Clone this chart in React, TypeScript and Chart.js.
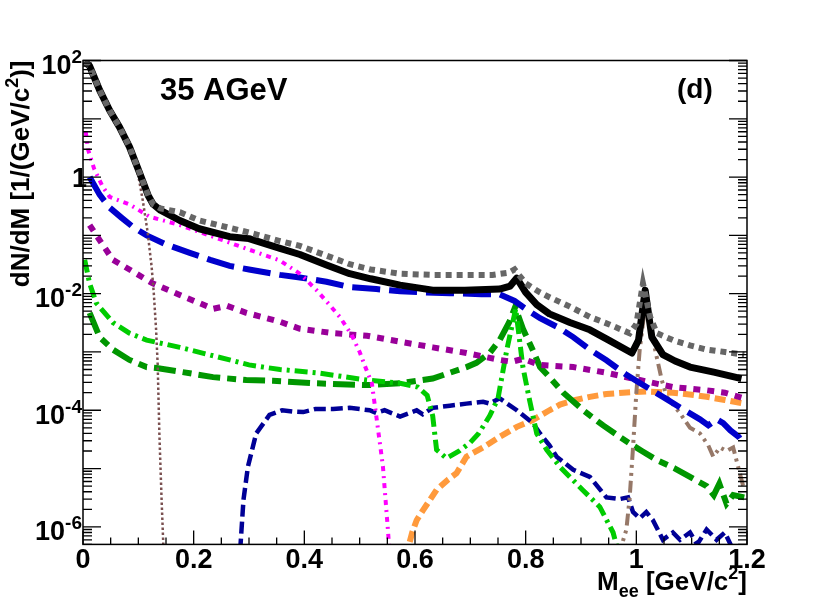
import { useEffect, useRef } from "react";
import { Chart, registerables } from "chart.js";

Chart.register(...registerables);

// dN/dM vs M_ee [GeV/c^2]
const sumM = [0.003, 0.012, 0.03, 0.048, 0.066, 0.084, 0.102, 0.118, 0.127, 0.14, 0.175, 0.21, 0.265, 0.3, 0.356, 0.392, 0.44, 0.482, 0.52, 0.573, 0.63, 0.69, 0.74, 0.77, 0.78, 0.8, 0.826, 0.843, 0.88, 0.916, 0.95, 0.988, 1.0, 1.012, 1.025, 1.037, 1.066, 1.097, 1.127, 1.16, 1.195];
const sumY = [95, 80, 31, 14, 7.2, 3.3, 1.2, 0.48, 0.34, 0.29, 0.25, 0.18, 0.135, 0.112, 0.08, 0.066, 0.045, 0.032, 0.026, 0.022, 0.021, 0.021, 0.021, 0.023, 0.026, 0.015, 0.0105, 0.0087, 0.006, 0.004, 0.003, 0.0021, 0.003, 0.015, 0.004, 0.0021, 0.0016, 0.0013, 0.0011, 0.001, 0.0009];

const totalM = [0.003, 0.012, 0.03, 0.048, 0.066, 0.084, 0.102, 0.118, 0.127, 0.14, 0.175, 0.21, 0.265, 0.3, 0.356, 0.392, 0.44, 0.482, 0.52, 0.573, 0.632, 0.69, 0.753, 0.772, 0.784, 0.8, 0.82, 0.843, 0.88, 0.916, 0.95, 0.992, 1.004, 1.016, 1.028, 1.048, 1.07, 1.097, 1.14, 1.19];
const totalY = [95, 80, 31, 14, 7.2, 3.3, 1.2, 0.48, 0.34, 0.27, 0.18, 0.13, 0.095, 0.088, 0.06, 0.047, 0.031, 0.022, 0.018, 0.014, 0.0115, 0.0115, 0.012, 0.0135, 0.0185, 0.0105, 0.0065, 0.0045, 0.0032, 0.0024, 0.0016, 0.00096, 0.0016, 0.0115, 0.0018, 0.0009, 0.0007, 0.00055, 0.00045, 0.00035];

const pi0M = [0.003, 0.012, 0.03, 0.048, 0.066, 0.084, 0.097, 0.108, 0.117, 0.124, 0.128, 0.132, 0.135, 0.138, 0.142, 0.146];
const pi0Y = [95, 80, 31, 14, 7.2, 3.3, 1.5, 0.4, 0.11, 0.029, 0.01, 0.0025, 0.0006, 0.00004, 0.000003, 0.0000003];

const bremM = [0.012, 0.03, 0.048, 0.07, 0.09, 0.115, 0.15, 0.193, 0.23, 0.265, 0.3, 0.356, 0.392, 0.44, 0.482, 0.53, 0.573, 0.62, 0.663, 0.72, 0.753, 0.78, 0.8, 0.826, 0.86, 0.886, 0.916, 0.946, 0.98, 1.01, 1.048, 1.08, 1.115, 1.13, 1.145, 1.157, 1.17, 1.185, 1.195];
const bremY = [1.0, 0.5, 0.3, 0.2, 0.14, 0.1, 0.07, 0.05, 0.038, 0.03, 0.026, 0.021, 0.019, 0.016, 0.013, 0.012, 0.011, 0.0105, 0.0102, 0.0098, 0.0097, 0.0075, 0.0055, 0.0038, 0.0026, 0.0018, 0.0011, 0.00072, 0.00042, 0.00028, 0.00017, 0.00011, 0.00007, 0.000055, 0.00007, 0.00006, 0.000045, 0.000035, 0.000025];

const etaM = [0.005, 0.009, 0.02, 0.035, 0.048, 0.084, 0.12, 0.175, 0.21, 0.265, 0.3, 0.356, 0.392, 0.422, 0.445, 0.464, 0.485, 0.5, 0.512, 0.522, 0.53, 0.542, 0.551, 0.556];
const etaY = [6, 3, 1.4, 0.7, 0.46, 0.34, 0.21, 0.15, 0.115, 0.075, 0.057, 0.037, 0.022, 0.0115, 0.0065, 0.004, 0.002, 0.001, 0.0005, 0.00029, 0.00008, 0.000011, 0.0000009, 0.0000002];

const deltaM = [0.012, 0.03, 0.054, 0.084, 0.126, 0.175, 0.235, 0.26, 0.295, 0.356, 0.392, 0.452, 0.513, 0.573, 0.632, 0.693, 0.753, 0.775, 0.795, 0.826, 0.886, 0.946, 1.006, 1.066, 1.127, 1.16, 1.195];
const deltaY = [0.15, 0.083, 0.038, 0.026, 0.015, 0.0095, 0.0055, 0.0062, 0.0047, 0.0033, 0.0025, 0.0021, 0.0019, 0.0015, 0.0012, 0.00096, 0.00073, 0.00068, 0.00076, 0.0006, 0.00055, 0.00044, 0.00033, 0.00025, 0.00022, 0.0002, 0.00016];

const omegaM = [0.003, 0.012, 0.024, 0.054, 0.084, 0.115, 0.175, 0.265, 0.3, 0.356, 0.422, 0.513, 0.573, 0.605, 0.622, 0.632, 0.639, 0.657, 0.68, 0.7, 0.715, 0.735, 0.75, 0.766, 0.782, 0.795, 0.807, 0.82, 0.838, 0.862, 0.903, 0.934, 0.958, 0.97];
const omegaY = [0.038, 0.015, 0.0069, 0.0032, 0.0021, 0.0016, 0.0012, 0.00073, 0.0006, 0.0005, 0.00044, 0.00033, 0.00029, 0.00025, 0.00018, 0.00008, 0.000021, 0.000015, 0.00002, 0.000028, 0.00004, 0.00008, 0.00016, 0.0011, 0.0055, 0.00055, 0.00015, 0.00004, 0.000021, 0.0000107, 0.0000043, 0.0000022, 0.0000008, 0.0000003];

const rhoM = [0.012, 0.03, 0.054, 0.084, 0.115, 0.133, 0.175, 0.235, 0.295, 0.343, 0.422, 0.513, 0.573, 0.632, 0.693, 0.711, 0.735, 0.753, 0.77, 0.781, 0.795, 0.813, 0.826, 0.843, 0.868, 0.904, 0.94, 0.97, 0.988, 1.01, 1.037, 1.07, 1.097, 1.127, 1.14, 1.15, 1.163, 1.175, 1.195];
const rhoY = [0.0047, 0.0018, 0.0011, 0.00073, 0.00055, 0.00053, 0.00046, 0.00037, 0.00033, 0.00032, 0.00029, 0.00027, 0.00029, 0.00035, 0.00055, 0.00065, 0.00096, 0.0016, 0.0032, 0.0059, 0.0025, 0.00107, 0.00055, 0.00037, 0.0002, 0.0001, 0.000055, 0.000035, 0.000027, 0.00002, 0.000014, 0.00001, 0.0000072, 0.000005, 0.0000035, 0.0000055, 0.0000025, 0.0000035, 0.0000032];

const etaPrimeM = [0.282, 0.29, 0.298, 0.313, 0.337, 0.36, 0.38, 0.398, 0.42, 0.452, 0.482, 0.518, 0.53, 0.545, 0.573, 0.603, 0.614, 0.632, 0.663, 0.693, 0.723, 0.735, 0.753, 0.784, 0.813, 0.826, 0.843, 0.856, 0.886, 0.916, 0.946, 0.97, 0.985, 0.994, 1.006, 1.018, 1.03, 1.048, 1.066, 1.079, 1.097, 1.11, 1.127, 1.145, 1.16, 1.175];
const etaPrimeY = [0.0000002, 0.0000029, 0.0000107, 0.00004, 0.000083, 0.0001, 0.000095, 0.000093, 0.000105, 0.000105, 0.00011, 0.0001, 0.00009, 0.0001, 0.000078, 0.0001, 0.000085, 0.00011, 0.00012, 0.00013, 0.00014, 0.00013, 0.00016, 0.0001, 0.00006, 0.00004, 0.000025, 0.000016, 0.0000095, 0.0000072, 0.0000032, 0.000003, 0.0000032, 0.0000018, 0.0000014, 0.0000018, 0.0000013, 0.0000006, 0.0000008, 0.0000006, 0.0000008, 0.0000005, 0.0000009, 0.0000006, 0.0000008, 0.0000004];

const qgpM = [0.583, 0.595, 0.603, 0.614, 0.639, 0.66, 0.675, 0.693, 0.723, 0.753, 0.784, 0.813, 0.843, 0.862, 0.89, 0.916, 0.946, 0.976, 1.018, 1.066, 1.1, 1.127, 1.16, 1.195];
const qgpY = [0.0000003, 0.0000008, 0.0000013, 0.0000019, 0.0000043, 0.0000065, 0.0000083, 0.000016, 0.000023, 0.000035, 0.000052, 0.000068, 0.0001, 0.000125, 0.00015, 0.00017, 0.00019, 0.0002, 0.00021, 0.0002, 0.000185, 0.00017, 0.00015, 0.00013];

const phiM = [0.967, 0.982, 0.988, 0.994, 1.0, 1.006, 1.012, 1.018, 1.024, 1.033, 1.046, 1.055, 1.079, 1.097, 1.115, 1.13, 1.139, 1.151, 1.163, 1.175, 1.187, 1.195];
const phiY = [0.0000003, 0.0000009, 0.0000032, 0.000023, 0.0002, 0.00107, 0.0031, 0.0087, 0.004, 0.0012, 0.00033, 0.00017, 0.000089, 0.00005, 0.00004, 0.000025, 0.000016, 0.000023, 0.00002, 0.000023, 0.0000083, 0.0000043];

const xTickLabels = ["0", "0.2", "0.4", "0.6", "0.8", "1", "1.2"];
const yLabelDecades = [2, 0, -2, -4, -6];

const FONT = '"Liberation Sans", Arial, Helvetica, sans-serif';

type Part = { t: string; s: number; dy: number };

function partsWidth(ctx: CanvasRenderingContext2D, parts: Part[]) {
  let w = 0;
  for (const p of parts) {
    ctx.font = `bold ${p.s}px ${FONT}`;
    w += ctx.measureText(p.t).width;
  }
  return w;
}

function drawParts(ctx: CanvasRenderingContext2D, parts: Part[], x: number, y: number) {
  let cx = x;
  ctx.textAlign = "left";
  for (const p of parts) {
    ctx.font = `bold ${p.s}px ${FONT}`;
    ctx.fillText(p.t, cx, y + p.dy);
    cx += ctx.measureText(p.t).width;
  }
}

const rootFrame = {
  id: "rootFrame",
  afterDatasetsDraw(chart: Chart) {
    const { ctx, chartArea: a } = chart;
    const xs = chart.scales.x;
    const ys = chart.scales.y;
    ctx.save();
    ctx.strokeStyle = "#000";
    ctx.fillStyle = "#000";
    ctx.lineWidth = 1.5;
    ctx.strokeRect(a.left, a.top, a.right - a.left, a.bottom - a.top);

    // x ticks: majors every 0.2, minors every 0.05
    ctx.lineWidth = 1.3;
    ctx.beginPath();
    for (let i = 0; i <= 24; i++) {
      const px = xs.getPixelForValue(i * 0.05);
      const len = i % 4 === 0 ? 14 : 7;
      ctx.moveTo(px, a.bottom);
      ctx.lineTo(px, a.bottom - len);
    }
    // log y ticks on both sides
    for (let d = -7; d <= 2; d++) {
      for (let k = 1; k <= 9; k++) {
        const v = k * Math.pow(10, d);
        if (v < 5e-7 || v > 100.0001) continue;
        const py = ys.getPixelForValue(v);
        const len = k === 1 ? 18 : 9;
        ctx.moveTo(a.left, py);
        ctx.lineTo(a.left + len, py);
        ctx.moveTo(a.right, py);
        ctx.lineTo(a.right - len, py);
      }
    }
    ctx.stroke();

    // x labels
    ctx.font = `bold 27px ${FONT}`;
    ctx.textAlign = "center";
    ctx.textBaseline = "alphabetic";
    xTickLabels.forEach((t, i) => {
      ctx.fillText(t, xs.getPixelForValue(i * 0.2), 568);
    });

    // y labels
    yLabelDecades.forEach((d) => {
      const py = ys.getPixelForValue(Math.pow(10, d));
      if (d === 0) {
        ctx.font = `bold 27px ${FONT}`;
        ctx.textAlign = "right";
        ctx.fillText("1", 87, py + 10);
        return;
      }
      const sup = String(d);
      ctx.font = `bold 19px ${FONT}`;
      const sw = ctx.measureText(sup).width;
      ctx.textAlign = "right";
      ctx.fillText(sup, 82, py + 2.5);
      ctx.font = `bold 27px ${FONT}`;
      ctx.fillText("10", 82 - sw, py + 13.5);
    });

    // panel texts
    ctx.textAlign = "left";
    ctx.font = `bold 31px ${FONT}`;
    ctx.fillText("35 AGeV", 160, 100);
    ctx.font = `bold 28px ${FONT}`;
    ctx.fillText("(d)", 677, 98);

    // x title, right-aligned to the frame
    const xt: Part[] = [
      { t: "M", s: 26, dy: 0 },
      { t: "ee", s: 18, dy: 7 },
      { t: " [GeV/c", s: 26, dy: 0 },
      { t: "2", s: 18, dy: -11 },
      { t: "]", s: 26, dy: 0 },
    ];
    drawParts(ctx, xt, a.right - partsWidth(ctx, xt), 590);

    // y title, rotated, ending at the top of the frame
    const yt: Part[] = [
      { t: "dN/dM [1/(GeV/c", s: 26, dy: 0 },
      { t: "2", s: 18, dy: -11 },
      { t: ")]", s: 26, dy: 0 },
    ];
    ctx.translate(29, a.top);
    ctx.rotate(-Math.PI / 2);
    drawParts(ctx, yt, -partsWidth(ctx, yt), 0);
    ctx.restore();
  },
};

function series(m: number[], y: number[], color: string, width: number, dash: number[], order: number) {
  return {
    label: color,
    data: m.map((v, i) => ({ x: v, y: y[i] })),
    borderColor: color,
    borderWidth: width,
    borderDash: dash,
    borderCapStyle: "butt" as const,
    borderJoinStyle: dash.length ? ("miter" as const) : ("round" as const),
    pointRadius: 0,
    tension: 0,
    fill: false,
    clip: 0,
    order,
  };
}

export default function App() {
  const canvasRef = useRef<HTMLCanvasElement>(null);

  useEffect(() => {
    const ctx = canvasRef.current?.getContext("2d");
    if (!ctx) return;

    const chart = new Chart(ctx, {
      type: "line",
      data: {
        datasets: [
          series(sumM, sumY, "#666666", 6, [6, 5], 0),
          series(totalM, totalY, "#000000", 7, [], 1),
          series(pi0M, pi0Y, "#7a5050", 2.5, [2.5, 2.5], 2),
          series(etaM, etaY, "#ff00ff", 4, [5, 5, 2, 5], 3),
          series(bremM, bremY, "#0000cc", 6, [28, 9], 4),
          series(phiM, phiY, "#967868", 4, [12, 5, 3, 5, 3, 5], 5),
          series(deltaM, deltaY, "#990099", 6, [7, 7], 6),
          series(omegaM, omegaY, "#00cc00", 5, [13, 5, 3, 5], 7),
          series(rhoM, rhoY, "#009600", 6, [22, 7, 9, 7], 8),
          series(etaPrimeM, etaPrimeY, "#000096", 4.5, [12, 5], 9),
          series(qgpM, qgpY, "#ff9a3c", 6, [11, 5], 10),
        ],
      },
      options: {
        responsive: false,
        animation: false,
        events: [],
        layout: { padding: { left: 83, right: 83, top: 60.5, bottom: 60.6 } },
        plugins: { legend: { display: false }, tooltip: { enabled: false } },
        scales: {
          x: { type: "linear", min: 0, max: 1.2, display: false },
          y: { type: "logarithmic", min: 5e-7, max: 100, display: false },
        },
      },
      plugins: [rootFrame],
    });

    return () => chart.destroy();
  }, []);

  return (
    <div style={{ position: "fixed", left: 0, top: 0, width: 830, height: 605, background: "#fff" }}>
      <canvas ref={canvasRef} width={830} height={605} />
    </div>
  );
}
